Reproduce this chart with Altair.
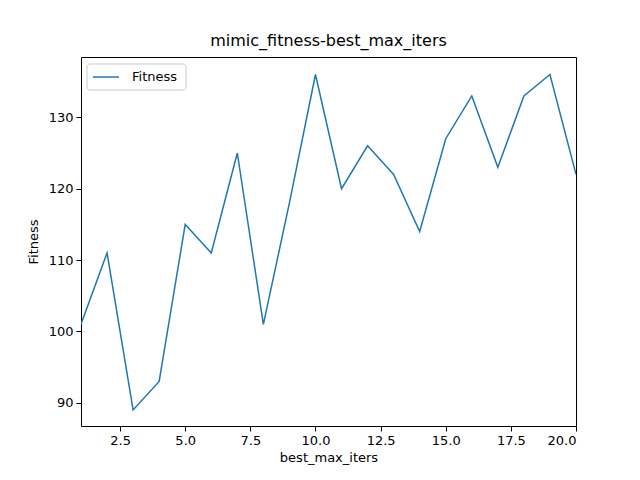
import pandas as pd
import altair as alt

iters = list(range(1, 21))
fitness = [101, 111, 89, 93, 115, 111, 125, 101, 118, 136,
           120, 126, 122, 114, 127, 133, 123, 133, 136, 122]

df = pd.DataFrame({"best_max_iters": iters, "Fitness": fitness})

line = alt.Chart(df).mark_line(color="#1f77b4", strokeWidth=1.5, clip=True).encode(
    x=alt.X("best_max_iters:Q", title="best_max_iters",
            scale=alt.Scale(domain=[1, 20], nice=False, zero=False),
            axis=alt.Axis(values=[2.5, 5, 7.5, 10, 12.5, 15, 17.5, 20], format=".1f", grid=False)),
    y=alt.Y("Fitness:Q", title="Fitness",
            scale=alt.Scale(domain=[86.75, 138.45], nice=False, zero=False),
            axis=alt.Axis(values=[90, 100, 110, 120, 130], grid=False)),
)

legend_box = alt.Chart(pd.DataFrame({"a": [0]})).mark_rect(
    fill="white", stroke="#cccccc", cornerRadius=3
).encode(x=alt.value(6), x2=alt.value(105), y=alt.value(7), y2=alt.value(33))
legend_line = alt.Chart(pd.DataFrame({"a": [0]})).mark_rule(
    color="#1f77b4", strokeWidth=1.5
).encode(x=alt.value(12), x2=alt.value(38), y=alt.value(20))
legend_text = alt.Chart(pd.DataFrame({"t": ["Fitness"]})).mark_text(
    align="left", baseline="middle", fontSize=13, font="DejaVu Sans"
).encode(x=alt.value(51), y=alt.value(20), text="t:N")

chart = (line + legend_box + legend_line + legend_text).properties(
    width=495, height=369,
    title=alt.TitleParams("mimic_fitness-best_max_iters", fontSize=16, fontWeight="normal",
                          font="DejaVu Sans", offset=8),
    autosize=alt.AutoSizeParams(type="none"),
    padding={"left": 73, "top": 49, "right": 56, "bottom": 46},
).configure_view(stroke="black", strokeWidth=1).configure_axis(
    domain=False, tickColor="black", labelColor="black", titleColor="black",
    labelFont="DejaVu Sans", titleFont="DejaVu Sans", labelFontSize=13, titleFontSize=13,
    titleFontWeight="normal", tickSize=5, labelPadding=3,
).configure_axisY(titlePadding=8).configure_axisX(titlePadding=4)

chart.save("out.html", embed_options={"renderer": "svg", "actions": False})
